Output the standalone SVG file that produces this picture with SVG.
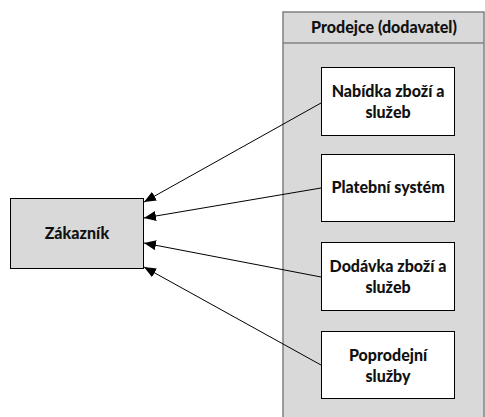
<svg xmlns="http://www.w3.org/2000/svg" width="485" height="417" viewBox="0 0 485 417">
  <style>
    .lbl { font-family: Lato, "Open Sans", "Liberation Sans", sans-serif; font-weight: 900; font-size: 16px; fill: #111; text-anchor: middle; }
    .box { fill: #fff; stroke: #000; stroke-width: 1; }
    .conn { stroke: #000; stroke-width: 1; fill: none; marker-end: url(#arrow); }
  </style>
  <defs>
    <marker id="arrow" viewBox="0 0 12 10" refX="12" refY="5" markerWidth="12" markerHeight="10" markerUnits="userSpaceOnUse" orient="auto">
      <path d="M0,0 L12,5 L0,10 Z" fill="#000"/>
    </marker>
  </defs>

  <!-- seller swimlane -->
  <g id="prodejce">
    <rect x="283" y="12" width="201" height="410" fill="#d9d9d9" stroke="#808080" stroke-width="1.5"/>
    <line x1="283" y1="43" x2="484" y2="43" stroke="#808080" stroke-width="1.5"/>
    <text class="lbl" x="384" y="33">Prodejce (dodavatel)</text>
  </g>

  <g id="zakaznik">
    <rect x="10.5" y="198.5" width="133" height="70" fill="#d9d9d9" stroke="#000" stroke-width="1"/>
    <text class="lbl" x="77" y="239">Zákazník</text>
  </g>

  <g id="nabidka">
    <rect class="box" x="321.5" y="67.5" width="133" height="68"/>
    <text class="lbl" x="388" y="97">Nabídka zboží a</text>
    <text class="lbl" x="388" y="118">služeb</text>
  </g>

  <g id="platebni">
    <rect class="box" x="321.5" y="154.5" width="133" height="67"/>
    <text class="lbl" x="388" y="193">Platební systém</text>
  </g>

  <g id="dodavka">
    <rect class="box" x="321.5" y="242.5" width="133" height="68"/>
    <text class="lbl" x="388" y="272">Dodávka zboží a</text>
    <text class="lbl" x="388" y="293">služeb</text>
  </g>

  <g id="poprodejni">
    <rect class="box" x="321.5" y="331.5" width="133" height="67"/>
    <text class="lbl" x="388" y="361">Poprodejní</text>
    <text class="lbl" x="388" y="382">služby</text>
  </g>

  <g id="connectors">
    <line class="conn" x1="321" y1="103" x2="144" y2="202"/>
    <line class="conn" x1="321" y1="188" x2="144" y2="218"/>
    <line class="conn" x1="321" y1="277" x2="144" y2="243"/>
    <line class="conn" x1="321" y1="365" x2="144" y2="267"/>
  </g>
</svg>
